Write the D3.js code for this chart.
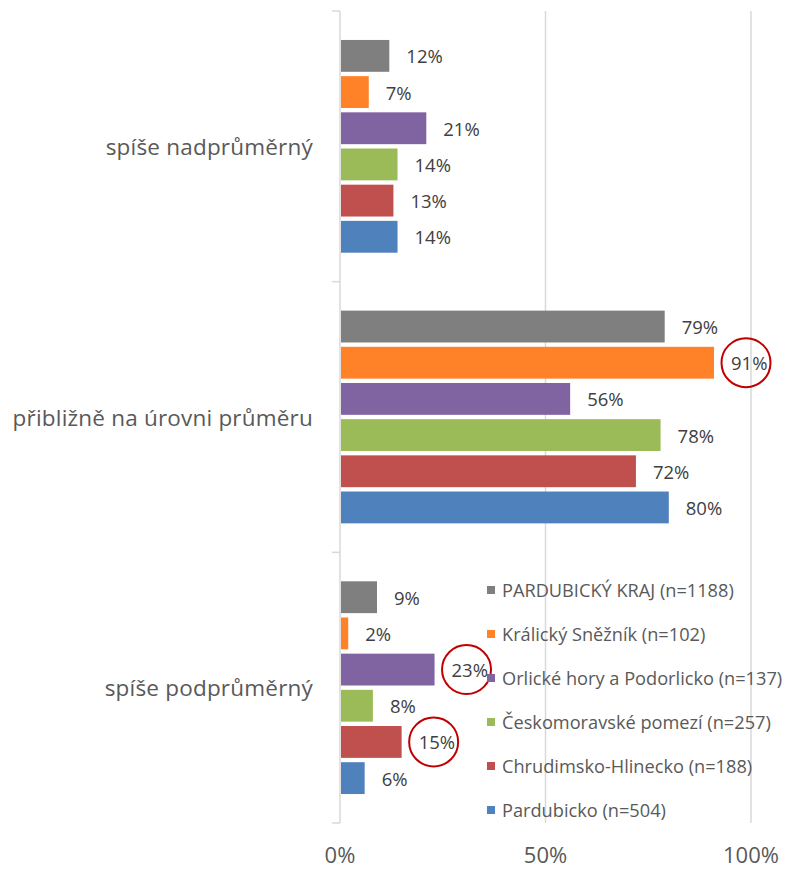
<!DOCTYPE html>
<html>
<head>
<meta charset="utf-8">
<script src="https://cdn.jsdelivr.net/npm/d3@7"></script>
<style>
  body { margin: 0; background: #fff; }
  svg text { font-family: "Open Sans", "Noto Sans", sans-serif; }
</style>
</head>
<body>
<div class="chart"></div>
<script>
// categories top to bottom
var categories = ["spíše nadprůměrný", "přibližně na úrovni průměru", "spíše podprůměrný"];

// series, in the order the bars are stacked inside each group (top to bottom)
var seriesNames = [
  "PARDUBICKÝ KRAJ (n=1188)",
  "Králický Sněžník (n=102)",
  "Orlické hory a Podorlicko (n=137)",
  "Českomoravské pomezí (n=257)",
  "Chrudimsko-Hlinecko (n=188)",
  "Pardubicko (n=504)"
];
var seriesColors = ["#7f7f7f", "#ff8229", "#8064a2", "#9bbb59", "#c0504d", "#4f81bd"];

// values in %, one array per category, same order as seriesNames
var nadprumerny = [12, 7, 21, 14, 13, 14];
var prumer = [79, 91, 56, 78, 72, 80];
var podprumerny = [9, 2, 23, 8, 15, 6];
var values = [nadprumerny, prumer, podprumerny];

var xTicks = [0, 50, 100];

// labels that are circled in red: [category index, series index]
var highlighted = [[1, 1], [2, 2], [2, 4]];

drawChart();

function drawChart(){

    var w = 792, h = 870;
    var margin = {top: 11, right: 40, bottom: 47, left: 340};
    var labelGap = 17;

    var svg = d3.select("div.chart")
              .append("svg")
              .attr("width", w)
              .attr("height", h);

    var x = d3.scaleLinear()
              .domain([0, 100])
              .range([margin.left, margin.left + 411]);

    var y0 = d3.scaleBand()
               .domain(categories)
               .range([margin.top, h - margin.bottom])
               .paddingInner(0.214)
               .paddingOuter(0.107);

    var y1 = d3.scaleBand()
               .domain(d3.range(seriesNames.length))
               .range([0, y0.bandwidth()])
               .paddingInner(0.12);

    //gridlines
    svg.selectAll(".grid")
        .data(xTicks.filter(function(d){ return d > 0; }))
        .enter()
        .append("line")
          .attr("x1", function(d){ return x(d); })
          .attr("x2", function(d){ return x(d); })
          .attr("y1", margin.top)
          .attr("y2", h - margin.bottom)
          .attr("stroke", "#d9d9d9")
          .attr("stroke-width", 1.5);

    //category axis with ticks between groups
    var step = y0.step();
    var bounds = d3.range(categories.length + 1).map(function(i){ return margin.top + i*step; });
    svg.append("line")
        .attr("x1", x(0)).attr("x2", x(0))
        .attr("y1", margin.top).attr("y2", h - margin.bottom)
        .attr("stroke", "#d9d9d9")
        .attr("stroke-width", 1.5);
    svg.selectAll(".ytick")
        .data(bounds)
        .enter()
        .append("line")
          .attr("x1", x(0) - 8).attr("x2", x(0))
          .attr("y1", function(d){ return d; })
          .attr("y2", function(d){ return d; })
          .attr("stroke", "#d9d9d9")
          .attr("stroke-width", 1.5);

    svg.selectAll(".cat")
        .data(categories)
        .enter()
        .append("text")
          .attr("x", x(0) - 27)
          .attr("y", function(d){ return y0(d) + y0.bandwidth()/2; })
          .attr("text-anchor", "end")
          .attr("dominant-baseline", "central")
          .attr("font-size", 22.5)
          .attr("letter-spacing", 0.2)
          .attr("fill", "#595959")
          .text(function(d){ return d; });

    //x tick labels
    svg.selectAll(".xlab")
        .data(xTicks)
        .enter()
        .append("text")
          .attr("x", function(d){ return x(d); })
          .attr("y", 863)
          .attr("text-anchor", "middle")
          .attr("font-size", 22)
          .attr("fill", "#595959")
          .text(function(d){ return d + "%"; });

    //bars
    var groups = svg.selectAll(".group")
        .data(values)
        .enter()
        .append("g")
          .attr("transform", function(d, i){ return "translate(0," + y0(categories[i]) + ")"; });

    groups.selectAll("rect")
        .data(function(d){ return d; })
        .enter()
        .append("rect")
          .attr("x", x(0) + 1)
          .attr("y", function(d, i){ return y1(i); })
          .attr("width", function(d){ return x(d) - x(0) - 1; })
          .attr("height", y1.bandwidth())
          .attr("fill", function(d, i){ return seriesColors[i]; });

    groups.selectAll(".lab")
        .data(function(d){ return d; })
        .enter()
        .append("text")
          .attr("x", function(d){ return x(d) + labelGap; })
          .attr("y", function(d, i){ return y1(i) + y1.bandwidth()/2; })
          .attr("dominant-baseline", "central")
          .attr("font-size", 18.5)
          .attr("fill", "#404040")
          .text(function(d){ return d + "%"; });

    //red circles round the highlighted labels
    svg.selectAll(".mark")
        .data(highlighted)
        .enter()
        .append("circle")
          .attr("cx", function(d){ return x(values[d[0]][d[1]]) + labelGap + 15; })
          .attr("cy", function(d){ return y0(categories[d[0]]) + y1(d[1]) + y1.bandwidth()/2; })
          .attr("r", 24.5)
          .attr("fill", "none")
          .attr("stroke", "#c00000")
          .attr("stroke-width", 2);

    //legend
    var legend = svg.selectAll(".legend")
        .data(seriesNames)
        .enter()
        .append("g")
          .attr("transform", function(d, i){ return "translate(487," + (590 + i*44) + ")"; });

    legend.append("rect")
        .attr("x", 0).attr("y", -4)
        .attr("width", 8).attr("height", 8)
        .attr("fill", function(d, i){ return seriesColors[i]; });

    legend.append("text")
        .attr("x", 15)
        .attr("y", 0)
        .attr("dominant-baseline", "central")
        .attr("font-size", 18.2)
        .attr("fill", "#595959")
        .text(function(d){ return d; });

}
</script>
</body>
</html>
